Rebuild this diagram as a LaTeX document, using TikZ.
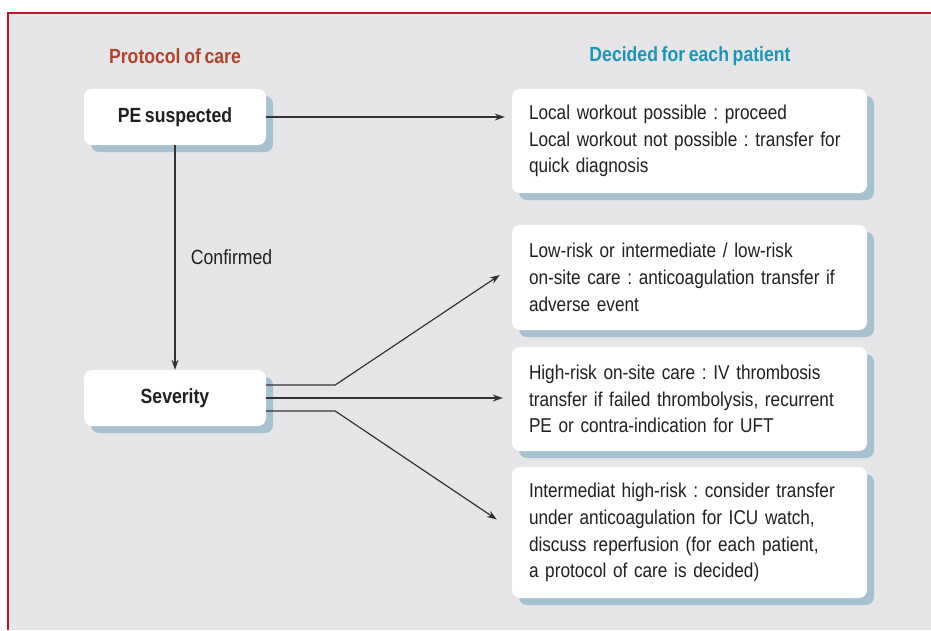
\documentclass[tikz,border=0pt]{standalone}
\usepackage{fontspec}
\setmainfont{Liberation Sans}[FakeStretch=0.86, WordSpace=0.75]
\usepackage{xcolor}
\usetikzlibrary{shapes,backgrounds,calc,shadows,arrows.meta}

\definecolor{framered}{HTML}{C8102E}
\definecolor{panelgray}{HTML}{E6E6E8}
\definecolor{shadowblue}{HTML}{A6C2D1}
\definecolor{caretitle}{HTML}{B0432C}
\definecolor{patienttitle}{HTML}{1B95B8}
\definecolor{textgray}{HTML}{231F20}
\frenchspacing

\begin{document}
\begin{tikzpicture}[x=1pt,y=-1pt]
        % Define the styles for the boxes and the connectors
        \tikzstyle{card}=[fill=white, rounded corners=8pt, inner sep=0pt,
            drop shadow={shadow xshift=7pt, shadow yshift=-7pt, fill=shadowblue, opacity=1}];
        \tikzstyle{stepcard}=[card, minimum width=182pt, minimum height=56pt,
            font=\fontsize{20.5}{24}\selectfont\bfseries, text=textgray];
        \tikzstyle{choicecard}=[card, minimum width=355pt, text width=321pt, inner xsep=17pt,
            align=left, font=\fontsize{20}{26.7}\selectfont, text=textgray];
        \tikzstyle{conn}=[draw=black!80, line width=1.2pt, -{Stealth[length=10pt,width=7pt]}];
        
        % Frame and panel
        \useasboundingbox (0,0) rectangle (931,630);
        \fill[white] (0,0) rectangle (931,630);
        \fill[panelgray] (8,13) rectangle (931,630);
        \draw[framered, line width=2.5pt] (8,630) -- (8,13) -- (931,13);
        
        % Column titles
        \node[text=caretitle, font=\fontsize{20.5}{24}\selectfont\bfseries] (care) at (175,56) {Protocol of care};
        \node[text=patienttitle, font=\fontsize{20.5}{24}\selectfont\bfseries] (patient) at (690,56) {Decided for each patient};
        
        % Protocol steps
        \node[stepcard] (suspected) at (175,117) {PE suspected};
        \node[stepcard] (severity) at (175,398) {Severity};
        
        % Decisions for each patient
        \node[choicecard, minimum height=104pt] (workout) at (689.5,141)
            {Local workout possible : proceed\\Local workout not possible : transfer for\\quick diagnosis};
        \node[choicecard, minimum height=105pt] (lowrisk) at (689.5,277.5)
            {Low-risk or intermediate / low-risk\\on-site care : anticoagulation transfer if\\adverse event};
        \node[choicecard, minimum height=104pt] (highrisk) at (689.5,399)
            {High-risk on-site care : IV thrombosis\\transfer if failed thrombolysis, recurrent\\PE or contra-indication for UFT};
        \node[choicecard, minimum height=131pt] (intermediate) at (689.5,532.5)
            {Intermediat high-risk : consider transfer\\under anticoagulation for ICU watch,\\discuss reperfusion (for each patient,\\a protocol of care is decided)};
        
        % Suspected -> workout, and confirmation
        \draw[conn] (suspected.east) -- ([xshift=-7pt]workout.west |- suspected.east);
        \draw[conn] (suspected.south) -- (severity.north) node[midway, right=12pt, text=textgray, font=\fontsize{20.5}{24}\selectfont] (confirmed) {Confirmed};
        
        % Severity fans out to the three cases
        \coordinate (fanup) at ($(severity.east)+(69,-13)$);
        \coordinate (fandown) at ($(severity.east)+(69,13)$);
        \draw[conn] ([yshift=13pt]severity.east) -- (fanup) -- ([xshift=-12pt,yshift=2.5pt]lowrisk.west);
        \draw[conn] (severity.east) -- ([xshift=-9pt]highrisk.west |- severity.east);
        \draw[conn] ([yshift=-13pt]severity.east) -- (fandown) -- ([xshift=-15pt,yshift=13pt]intermediate.west);
        
    \end{tikzpicture}
\end{document}
